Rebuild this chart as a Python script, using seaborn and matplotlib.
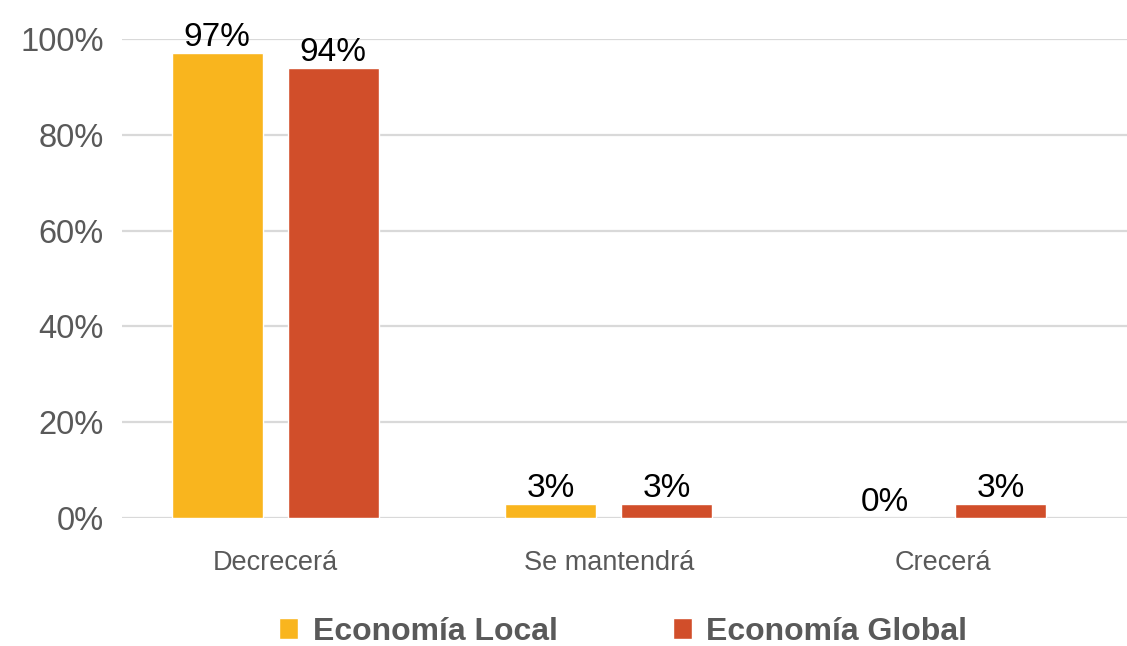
import matplotlib
matplotlib.use("Agg")
import matplotlib.pyplot as plt
import seaborn as sns
import pandas as pd

categories = ["Decrecerá", "Se mantendrá", "Crecerá"]
series_names = ["Economía Local", "Economía Global"]
local_values = [97, 3, 0]
global_values = [94, 3, 3]
y_ticks = [0, 20, 40, 60, 80, 100]

colors = ["#F9B51E", "#D14E2A"]

df = pd.DataFrame({
    "categoria": categories * 2,
    "serie": [series_names[0]] * 3 + [series_names[1]] * 3,
    "valor": local_values + global_values,
})

sns.set_theme(style="white")
plt.rcParams["font.family"] = ["Liberation Sans", "DejaVu Sans"]

fig = plt.figure(figsize=(11.27, 6.46), dpi=100)
ax = fig.add_axes([0.108, 0.198, 0.892, 0.7415])

sns.barplot(data=df, x="categoria", y="valor", hue="serie", order=categories,
            hue_order=series_names, palette=colors, width=0.696, gap=0.216,
            saturation=1, ax=ax, legend=True)

ax.set_ylim(0, 100)
ax.set_xlim(-0.46, 2.553)
ax.set_yticks(y_ticks)
ax.set_yticklabels([f"{t}%" for t in y_ticks])
ax.yaxis.grid(True, color="#D9D9D9", linewidth=1.6)
ax.set_axisbelow(True)
for s in ax.spines.values():
    s.set_visible(False)
ax.tick_params(axis="y", length=0, pad=13, labelsize=23.5, labelcolor="#595959")
ax.tick_params(axis="x", length=0, pad=23, labelsize=19.5, labelcolor="#595959")
ax.set_xlabel("")
ax.set_ylabel("")

for container in ax.containers:
    ax.bar_label(container, labels=[f"{v:.0f}%" for v in container.datavalues],
                 fontsize=24, color="black", padding=0, clip_on=False)

handles, labels = ax.get_legend_handles_labels()
ax.legend_.remove()
leg = fig.legend(handles, labels, loc="center", bbox_to_anchor=(0.553, 0.022),
                 ncol=2, frameon=False, handlelength=0.6, handleheight=0.6,
                 handletextpad=0.45, columnspacing=3.6,
                 prop={"size": 23, "weight": "bold"})
for t in leg.get_texts():
    t.set_color("#595959")

fig.savefig("out.png", dpi=100)
